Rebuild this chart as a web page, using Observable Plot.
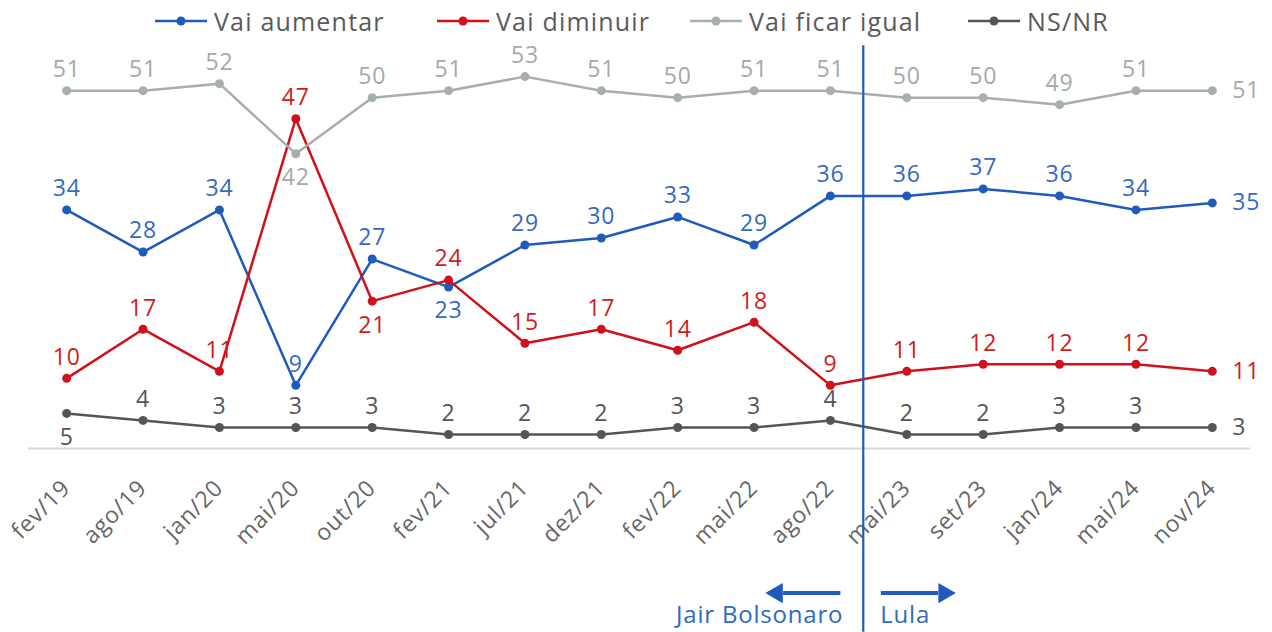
<!DOCTYPE html>
<html>
<head>
<meta charset="utf-8">
<script src="https://cdn.jsdelivr.net/npm/d3@7"></script>
<script src="https://cdn.jsdelivr.net/npm/@observablehq/plot@0.6"></script>
<style>
  html, body { margin: 0; padding: 0; background: #fff; }
  body { font-family: "Open Sans", "Noto Sans", sans-serif; }
  #wrap { position: relative; width: 1272px; height: 632px; }
  #chart svg text { letter-spacing: 0.8px; }
  #legend { position: absolute; top: 6px; left: 0; width: 1272px; height: 30px; font-size: 25px; line-height: 1; color: #5a5a5a; letter-spacing: 1.2px; }
  #legend .item { position: absolute; top: 0; height: 30px; display: flex; align-items: center; gap: 7px; white-space: nowrap; }
</style>
</head>
<body>
<div id="wrap">
  <div id="chart"></div>
  <div id="legend"></div>
</div>
<script>
const periods = ["fev/19","ago/19","jan/20","mai/20","out/20","fev/21","jul/21","dez/21","fev/22","mai/22","ago/22","mai/23","set/23","jan/24","mai/24","nov/24"];
const seriesNames = ["Vai aumentar","Vai diminuir","Vai ficar igual","NS/NR"];
const aumentar = [34,28,34,9,27,23,29,30,33,29,36,36,37,36,34,35];
const diminuir = [10,17,11,47,21,24,15,17,14,18,9,11,12,12,12,11];
const igual    = [51,51,52,42,50,51,53,51,50,51,51,50,50,49,51,51];
const nsnr     = [5,4,3,3,3,2,2,2,3,3,4,2,2,3,3,3];
const lineColors  = ["#1f5bbd","#d0101a","#a7aeae","#555555"];
const labelColors = ["#3569c2","#d01c1c","#a3a9a9","#555555"];
const governments = ["Jair Bolsonaro","Lula"];
// labels placed below the marker: [series index, period index]
const belowLabels = [[0,5],[1,4],[2,3],[3,0]];
// government change, as a fractional period position between ago/22 and mai/23
const changeAt = 10.43;

const allValues = [aumentar, diminuir, igual, nsnr];
const data = [];
allValues.forEach((vals, s) => vals.forEach((v, i) => data.push({series: seriesNames[s], s, i, v})));

const last = periods.length - 1;
const isBelow = d => belowLabels.some(([s,i]) => s === d.s && i === d.i);
const above = data.filter(d => d.i !== last && !isBelow(d));
const below = data.filter(d => d.i !== last && isBelow(d));
const right = data.filter(d => d.i === last);

const font = "'Open Sans', 'Noto Sans', sans-serif";
const blue = "#1f5bbd";

const chart = Plot.plot({
  width: 1272,
  height: 632,
  marginLeft: 28,
  marginRight: 22,
  marginTop: 27,
  marginBottom: 184,
  style: {fontFamily: font, background: "#fff", overflow: "visible"},
  x: {domain: [-0.5, last + 0.5], axis: null},
  y: {domain: [0, 60], axis: null},
  color: {domain: seriesNames, range: lineColors},
  marks: [
    Plot.ruleY([0], {stroke: "#d9d9d9", strokeWidth: 2}),
    Plot.text(d3.range(periods.length), {
      x: d => d, frameAnchor: "bottom", text: i => periods[i], rotate: -45,
      textAnchor: "end", dy: 41, dx: 5, fontSize: 23, fill: "#666666"
    }),
    Plot.line(data, {x: "i", y: "v", z: "series", stroke: d => d.series, strokeWidth: 2.5}),
    Plot.dot(data, {x: "i", y: "v", fill: d => d.series, r: 4.5, stroke: null}),
    Plot.text(above, {x: "i", y: "v", text: "v", dy: -21, fill: d => labelColors[d.s], fontSize: 23}),
    Plot.text(below, {x: "i", y: "v", text: "v", dy: 24, fill: d => labelColors[d.s], fontSize: 23}),
    Plot.text(right, {x: "i", y: "v", text: "v", dx: 20, textAnchor: "start", fill: d => labelColors[d.s], fontSize: 23}),
    Plot.ruleX([changeAt], {y1: 57.4, y2: -26.2, stroke: blue, strokeWidth: 2.2}),
    Plot.link([{a: changeAt - 0.3, b: changeAt - 1.05}, {a: changeAt + 0.23, b: changeAt + 0.98}],
      {x1: "a", x2: "b", y1: -20.6, y2: -20.6, stroke: blue, strokeWidth: 4}),
    Plot.dot([{x: changeAt - 1.13, r: -90}, {x: changeAt + 1.06, r: 90}],
      {x: "x", y: -20.6, symbol: "triangle", rotate: "r", r: 7.5, fill: blue, stroke: null}),
    Plot.text([governments[0]], {x: changeAt, y: -23.8, text: d => d, dx: -20, textAnchor: "end", fill: "#2e6bbf", fontSize: 24}),
    Plot.text([governments[1]], {x: changeAt, y: -23.8, text: d => d, dx: 17, textAnchor: "start", fill: "#2e6bbf", fontSize: 24})
  ]
});
document.getElementById("chart").appendChild(chart);

const legend = document.getElementById("legend");
const legendLeft = [155, 437, 690, 968];
seriesNames.forEach((name, s) => {
  const item = document.createElement("div");
  item.className = "item";
  item.style.left = legendLeft[s] + "px";
  item.innerHTML = `<svg width="52" height="30"><line x1="0" x2="52" y1="15" y2="15" stroke="${lineColors[s]}" stroke-width="2.5"/><circle cx="26" cy="15" r="4.5" fill="${lineColors[s]}"/></svg><span>${name}</span>`;
  legend.appendChild(item);
});
</script>
</body>
</html>
